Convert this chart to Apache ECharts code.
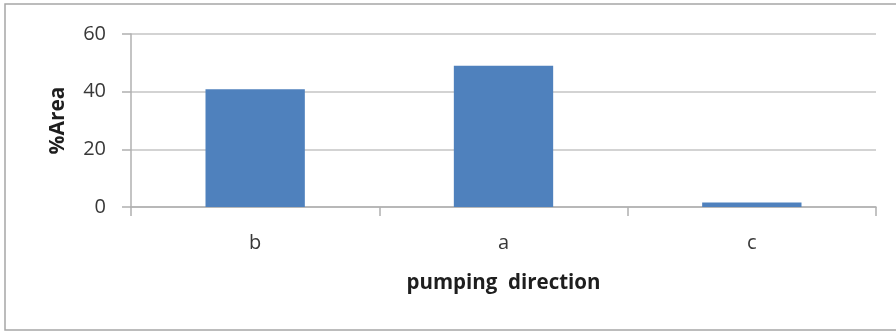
<!DOCTYPE html>
<html>
<head>
<meta charset="utf-8">
<style>html,body{margin:0;padding:0;background:#fff;}#chart{width:896px;height:336px;}</style>
<script src="https://cdn.jsdelivr.net/npm/echarts@6/dist/echarts.min.js"></script>
</head>
<body>
<div id="chart"></div>
<script>
const categories = ['b', 'a', 'c'];
const areaValues = [40.8, 49.0, 1.6];
const yTicks = [0, 20, 40, 60];

const chart = echarts.init(document.getElementById('chart'), null, {renderer: 'canvas'});
const fontFamily = '"Open Sans", "Noto Sans", sans-serif';
chart.setOption({
  animation: false,
  backgroundColor: '#ffffff',
  graphic: [{
    type: 'rect',
    shape: {x: 5, y: 4, width: 900, height: 326},
    style: {fill: 'none', stroke: '#a6a6a6', lineWidth: 1.5},
    silent: true
  }],
  grid: {left: 131, right: 20, top: 34, bottom: 129, containLabel: false},
  xAxis: {
    type: 'category',
    data: categories,
    boundaryGap: true,
    axisLine: {show: true, lineStyle: {color: '#b0b0b0', width: 1.5}},
    axisTick: {show: true, length: 9, alignWithLabel: false, lineStyle: {color: '#b0b0b0', width: 1.5}},
    axisLabel: {fontSize: 20, color: '#383838', margin: 26, fontFamily: fontFamily},
    name: 'pumping  direction',
    nameLocation: 'middle',
    nameGap: 66,
    nameTextStyle: {fontSize: 20.5, fontWeight: 'bold', color: '#1e1e1e', fontFamily: fontFamily}
  },
  yAxis: {
    type: 'value',
    min: yTicks[0],
    max: yTicks[yTicks.length - 1],
    interval: 20,
    axisLine: {show: true, lineStyle: {color: '#b0b0b0', width: 1.5}},
    axisTick: {show: true, length: 9, lineStyle: {color: '#b0b0b0', width: 1.5}},
    splitLine: {show: true, lineStyle: {color: '#c4c4c4', width: 1.5}},
    axisLabel: {fontSize: 20, color: '#383838', margin: 25, fontFamily: fontFamily},
    name: '%Area',
    nameLocation: 'middle',
    nameGap: 62,
    nameRotate: 90,
    nameTextStyle: {fontSize: 21, fontWeight: 'bold', color: '#1e1e1e', fontFamily: fontFamily}
  },
  series: [{
    type: 'bar',
    data: areaValues,
    barWidth: '40%',
    itemStyle: {color: '#4f81bd'}
  }]
});
</script>
</body>
</html>
